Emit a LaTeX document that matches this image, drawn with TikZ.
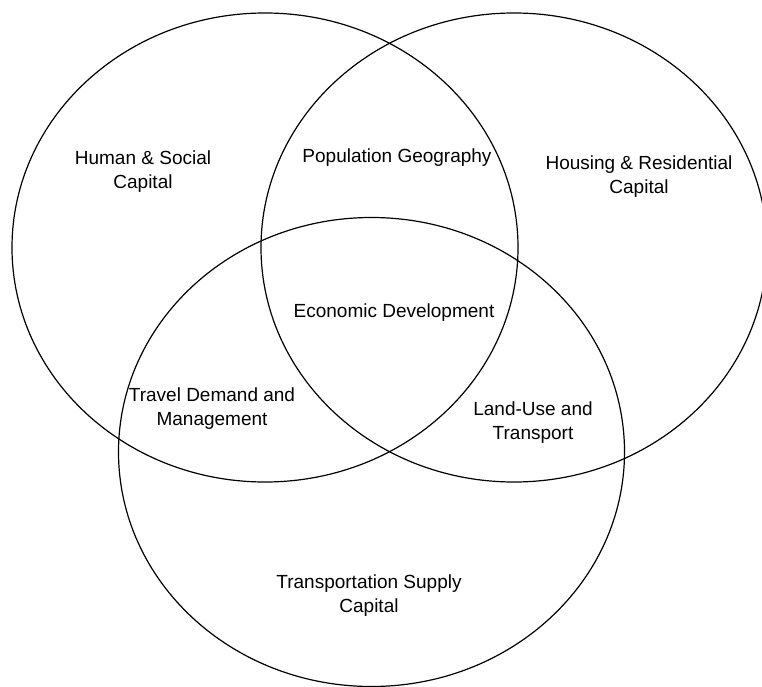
\documentclass[tikz,border=0pt]{standalone}
\usepackage{fontspec}
\setmainfont{Liberation Sans}
\usetikzlibrary{shapes.geometric}
\begin{document}
\begin{tikzpicture}[x=1pt,y=-1pt,
  setellipse/.style={draw=black, line width=1.2pt, ellipse, inner sep=0pt,
    minimum width=506pt, minimum height=469pt},
  lbl/.style={align=center, font=\fontsize{19}{24}\selectfont, inner sep=0pt}]
\useasboundingbox (0,0) rectangle (762,687);
\clip (0,0) rectangle (762,687);
\fill[white] (0,0) rectangle (762,687);
\node[setellipse] (human) at (265,247.5) {};
\node[setellipse] (housing) at (514,247.5) {};
\node[setellipse] (transp) at (371.5,452) {};
\node[lbl] (hs) at (143,172) {Human \& Social\\Capital};
\node[lbl] (pg) at (397,158) {Population Geography};
\node[lbl] (hr) at (639,177) {Housing \& Residential\\Capital};
\node[lbl] (ed) at (394,313) {Economic Development};
\node[lbl] (td) at (212,409) {Travel Demand and\\Management};
\node[lbl] (lu) at (533,423) {Land-Use and\\Transport};
\node[lbl] (ts) at (369,596) {Transportation Supply\\Capital};
\end{tikzpicture}
\end{document}
